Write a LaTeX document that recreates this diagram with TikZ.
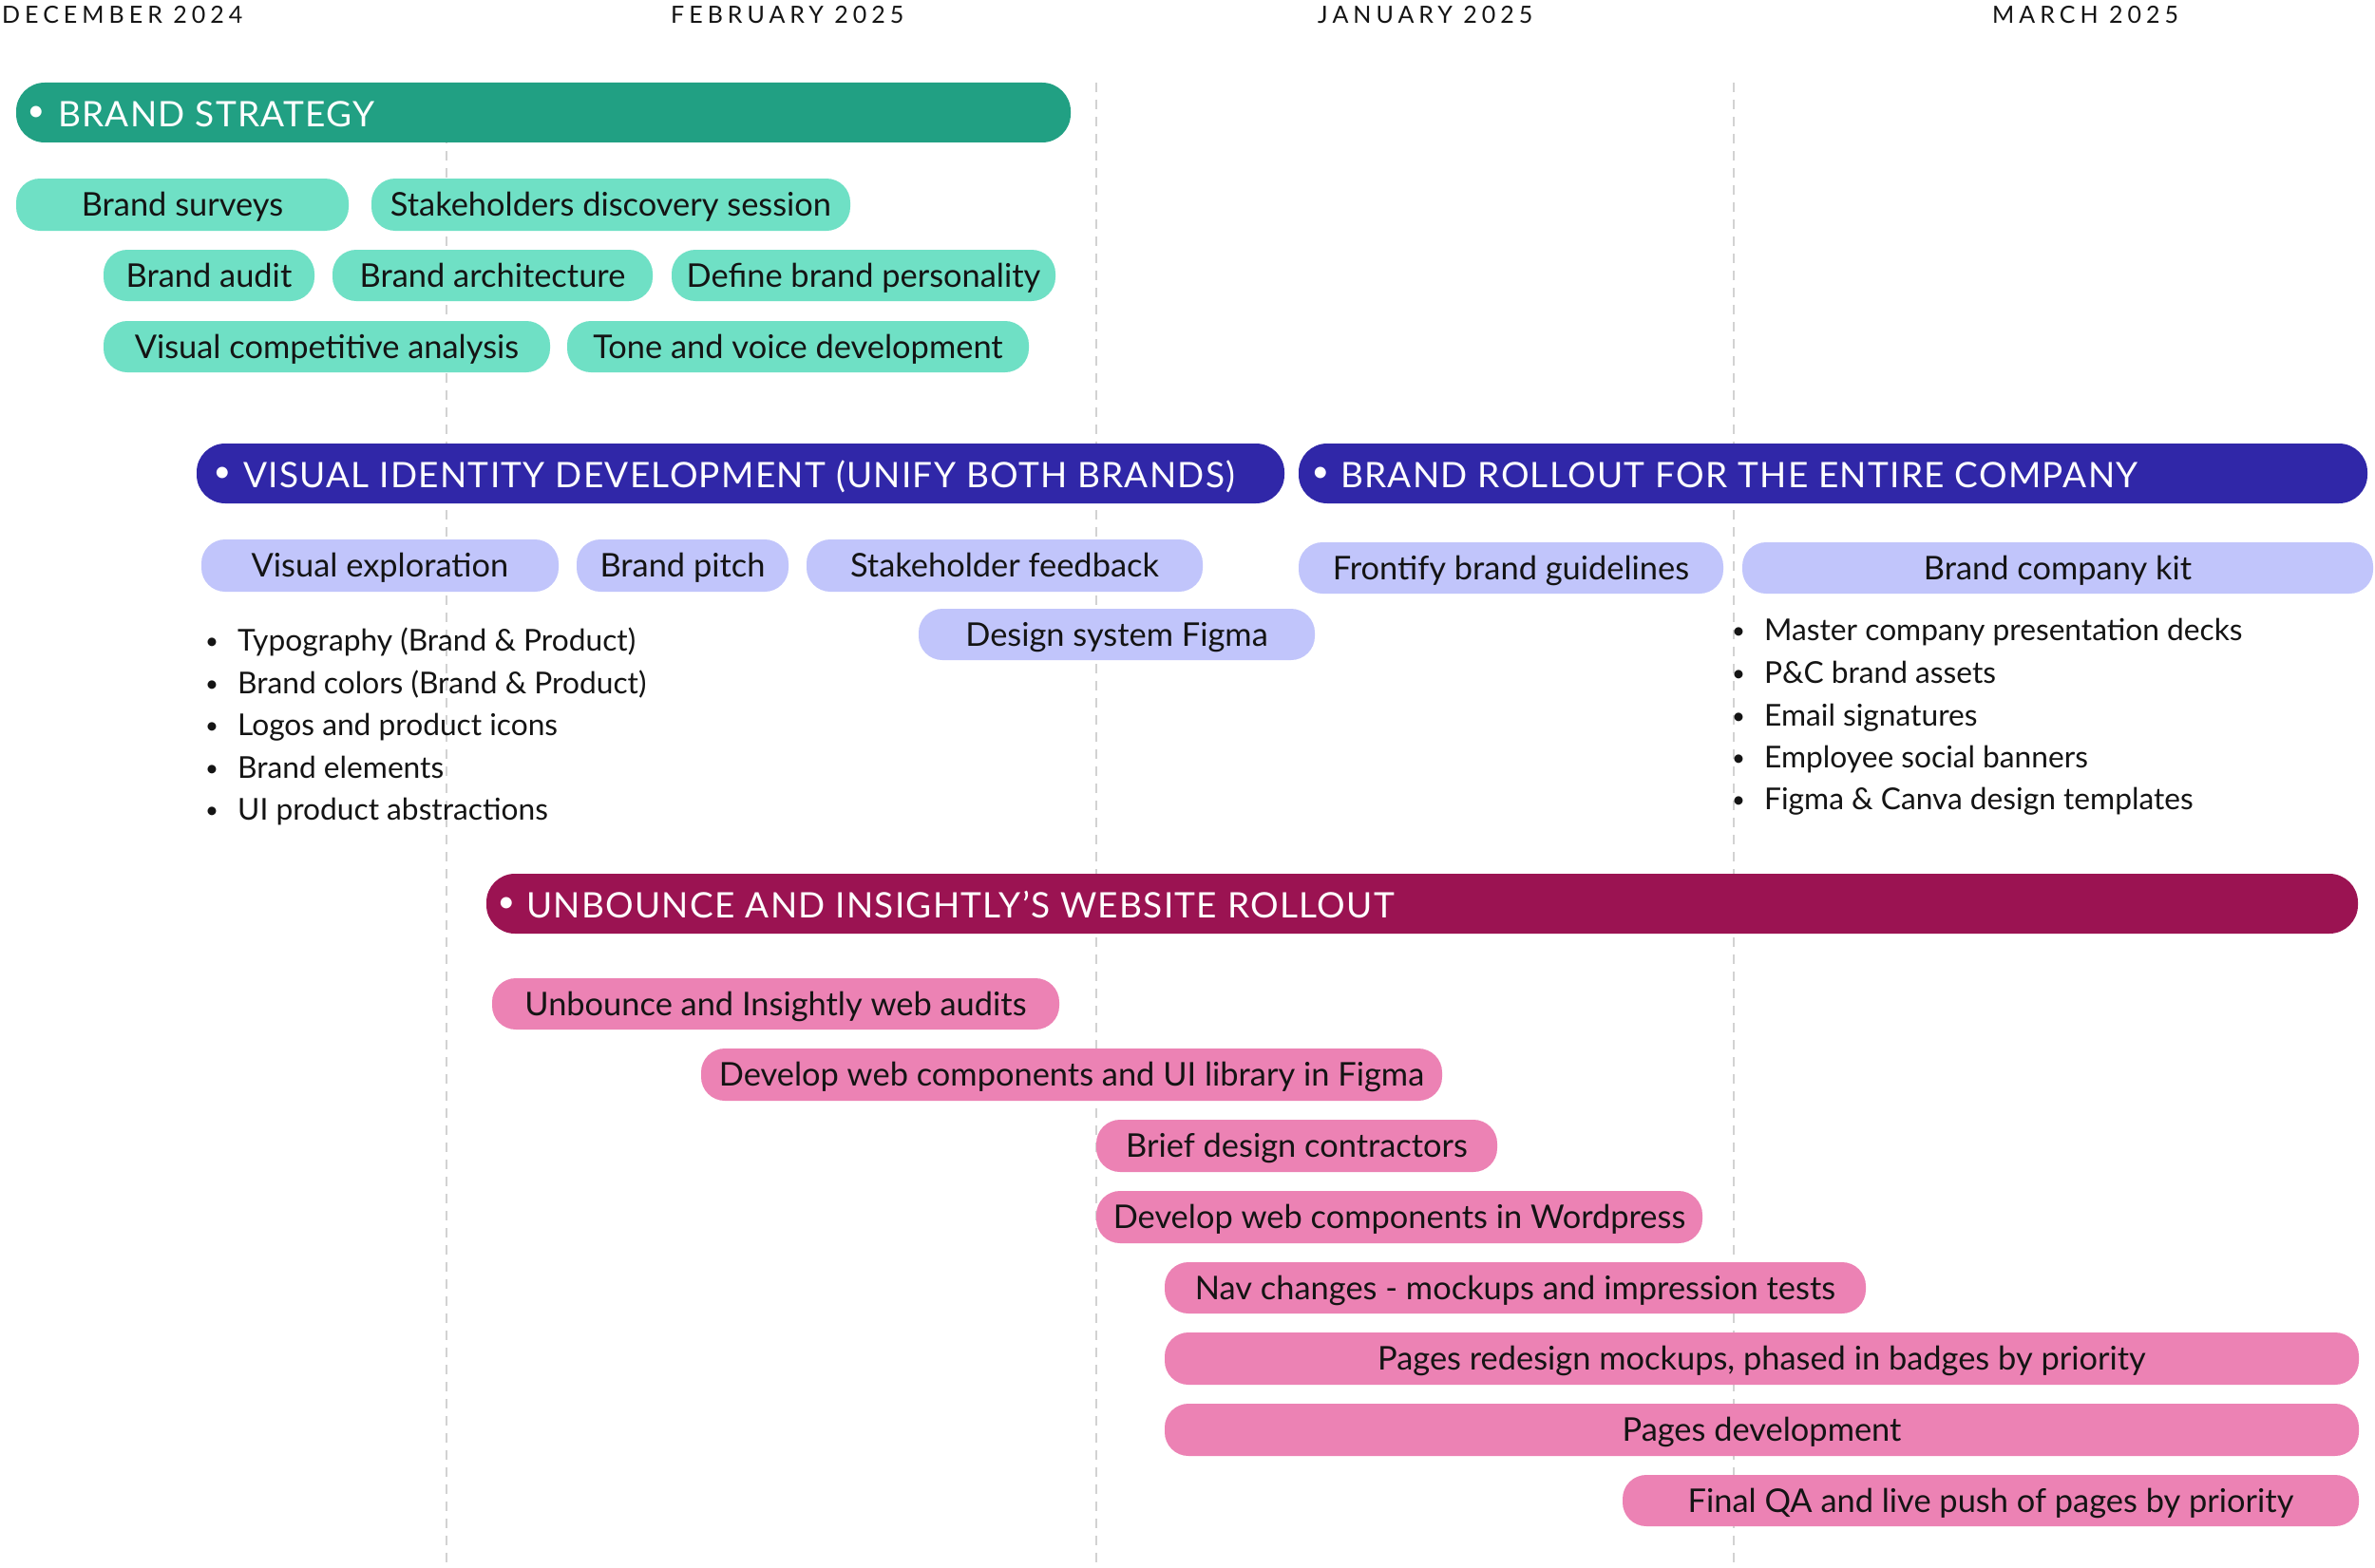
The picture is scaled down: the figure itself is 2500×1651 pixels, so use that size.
\documentclass[tikz,border=0pt]{standalone}
\usepackage{fontspec}
\setmainfont{Lato}
\newfontfamily\monthfont[LetterSpace=20]{Lato}
\newfontfamily\headfont[LetterSpace=3.5]{Lato}
\definecolor{tealdark}{HTML}{21A083}
\definecolor{teallight}{HTML}{6FE0C5}
\definecolor{navy}{HTML}{3027A8}
\definecolor{lavender}{HTML}{C1C5FB}
\definecolor{magenta}{HTML}{9B1352}
\definecolor{pinkpill}{HTML}{EC82B4}
\definecolor{ink}{HTML}{141414}
\definecolor{gridgray}{HTML}{D2D2D2}
\newcommand\pillbox[7]{\node[pill,fill=#2,minimum width={#5-#3},minimum height={#6-#4}] (#1) at ({(#3+#5)/2},{(#4+#6)/2}) {#7};}
\newcommand\barbox[6]{\node[bar,fill=#2,minimum width={#5-#3},minimum height={#6-#4}] (#1) at ({(#3+#5)/2},{(#4+#6)/2}) {};}
\begin{document}
\begin{tikzpicture}[x=1pt,y=-1pt,
  gridline/.style={draw=gridgray,line width=2pt,dash pattern=on 10pt off 8pt},
  bar/.style={rectangle,rounded corners=30pt,inner sep=0pt,draw=none},
  pill/.style={rectangle,rounded corners=25pt,inner sep=0pt,draw=none,text=ink,
    font=\fontsize{34.4}{40}\selectfont,text height=24.5pt,text depth=0pt},
  headtxt/.style={anchor=west,inner sep=0pt,text=white,
    font=\headfont\fontsize{37}{43}\selectfont,text height=26.5pt,text depth=0pt},
  headdot/.style={inner sep=0pt,text=white,font=\fontsize{32}{38}\selectfont},
  listtxt/.style={anchor=west,inner sep=0pt,text=ink,
    font=\fontsize{31.7}{38}\selectfont,text height=23pt,text depth=0pt},
  listdot/.style={inner sep=0pt,text=ink,font=\fontsize{24}{30}\selectfont},
  month/.style={anchor=west,inner sep=0pt,text=ink,
    font=\monthfont\fontsize{25}{30}\selectfont,text height=18pt,text depth=0pt}]
\useasboundingbox[fill=white] (0,0) rectangle (2500,1651);

% month labels
\node[month] (m1) at (2,16) {DECEMBER 2024};
\node[month] (m2) at (706,16) {FEBRUARY 2025};
\node[month] (m3) at (1387,16) {JANUARY 2025};
\node[month] (m4) at (2097,16) {MARCH 2025};

% grid lines
\coordinate (g1t) at (470,87);  \coordinate (g1b) at (470,1651);
\coordinate (g2t) at (1154,87); \coordinate (g2b) at (1154,1651);
\coordinate (g3t) at (1825,87); \coordinate (g3b) at (1825,1651);
\draw[gridline] (g1t) -- (g1b);
\draw[gridline] (g2t) -- (g2b);
\draw[gridline] (g3t) -- (g3b);

% ===== Brand strategy =====
\barbox{bsbar}{tealdark}{17}{87}{1127}{150}
\node[headdot] (bsdot) at (38,120) {•};
\node[headtxt] (bshead) at (61,120.5) {BRAND STRATEGY};
\pillbox{bs1}{teallight}{17}{188}{367}{243}{Brand surveys}
\pillbox{bs2}{teallight}{391}{188}{895}{243}{Stakeholders discovery session}
\pillbox{bs3}{teallight}{109}{263}{331}{317}{Brand audit}
\pillbox{bs4}{teallight}{350}{263}{687}{317}{Brand architecture}
\pillbox{bs5}{teallight}{707}{263}{1111}{317}{Define brand personality}
\pillbox{bs6}{teallight}{109}{338}{579}{392}{Visual competitive analysis}
\pillbox{bs7}{teallight}{597}{338}{1083}{392}{Tone and voice development}

% ===== Visual identity =====
\barbox{vibar}{navy}{207}{467}{1352}{530}
\node[headdot] (vidot) at (234,500) {•};
\node[headtxt] (vihead) at (256,500.5) {VISUAL IDENTITY DEVELOPMENT (UNIFY BOTH BRANDS)};
\pillbox{vi1}{lavender}{212}{568}{588}{623}{Visual exploration}
\pillbox{vi2}{lavender}{607}{568}{830}{623}{Brand pitch}
\pillbox{vi3}{lavender}{849}{568}{1266}{623}{Stakeholder feedback}
\pillbox{vi4}{lavender}{967}{641}{1384}{695}{Design system Figma}

\node[listdot] (vl1d) at (223,678) {•};
\node[listtxt] (vl1) at (250,674) {Typography (Brand \& Product)};
\node[listdot] (vl2d) at (223,723) {•};
\node[listtxt] (vl2) at (250,719) {Brand colors (Brand \& Product)};
\node[listdot] (vl3d) at (223,767) {•};
\node[listtxt] (vl3) at (250,763) {Logos and product icons};
\node[listdot] (vl4d) at (223,812) {•};
\node[listtxt] (vl4) at (250,808) {Brand elements};
\node[listdot] (vl5d) at (223,856) {•};
\node[listtxt] (vl5) at (250,852) {UI product abstractions};

% ===== Brand rollout =====
\barbox{robar}{navy}{1367}{467}{2492}{530}
\node[headdot] (rodot) at (1390,500) {•};
\node[headtxt] (rohead) at (1411,500.5) {BRAND ROLLOUT FOR THE ENTIRE COMPANY};
\pillbox{ro1}{lavender}{1367}{571}{1814}{625}{Frontify brand guidelines}
\pillbox{ro2}{lavender}{1834}{571}{2498}{625}{Brand company kit}

\node[listdot] (rl1d) at (1830,667) {•};
\node[listtxt] (rl1) at (1857,663) {Master company presentation decks};
\node[listdot] (rl2d) at (1830,712) {•};
\node[listtxt] (rl2) at (1857,708) {P\&C brand assets};
\node[listdot] (rl3d) at (1830,757) {•};
\node[listtxt] (rl3) at (1857,753) {Email signatures};
\node[listdot] (rl4d) at (1830,801) {•};
\node[listtxt] (rl4) at (1857,797) {Employee social banners};
\node[listdot] (rl5d) at (1830,845) {•};
\node[listtxt] (rl5) at (1857,841) {Figma \& Canva design templates};

% ===== Website rollout =====
\barbox{webar}{magenta}{512}{920}{2482}{983}
\node[headdot] (wedot) at (533,953) {•};
\node[headtxt] (wehead) at (554,953.5) {UNBOUNCE AND INSIGHTLY’S WEBSITE ROLLOUT};
\pillbox{w1}{pinkpill}{518}{1030}{1115}{1084}{Unbounce and Insightly web audits}
\pillbox{w2}{pinkpill}{738}{1104}{1518}{1159}{Develop web components and UI library in Figma}
\pillbox{w3}{pinkpill}{1154}{1179}{1576}{1234}{Brief design contractors}
\pillbox{w4}{pinkpill}{1154}{1254}{1792}{1309}{Develop web components in Wordpress}
\pillbox{w5}{pinkpill}{1226}{1329}{1964}{1383}{Nav changes - mockups and impression tests}
\pillbox{w6}{pinkpill}{1226}{1403}{2483}{1458}{Pages redesign mockups, phased in badges by priority}
\pillbox{w7}{pinkpill}{1226}{1478}{2483}{1533}{Pages development}
\pillbox{w8}{pinkpill}{1708}{1553}{2483}{1607}{Final QA and live push of pages by priority}
\end{tikzpicture}
\end{document}
